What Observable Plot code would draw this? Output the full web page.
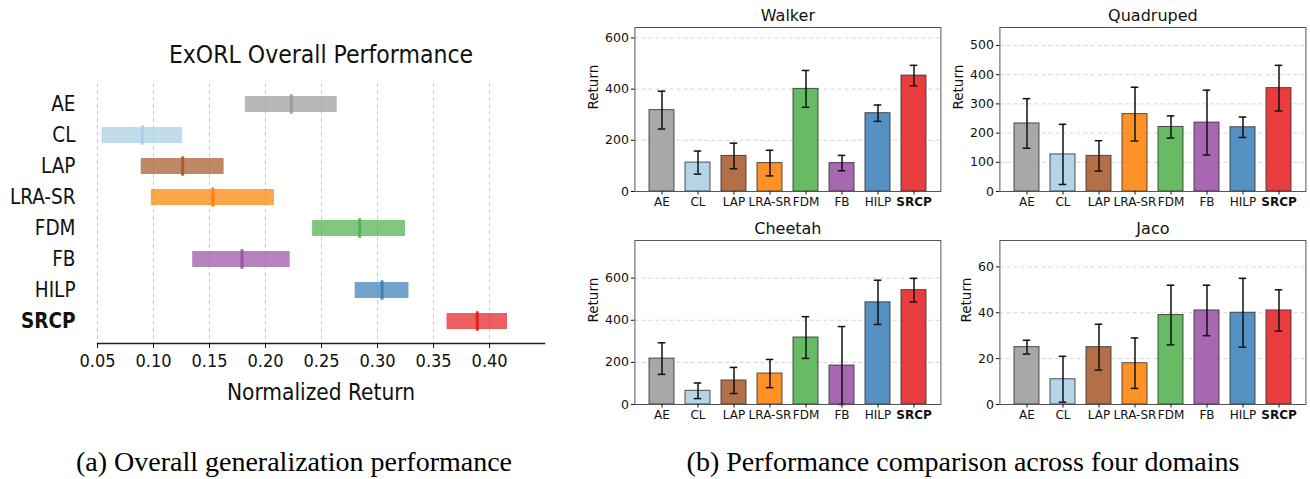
<!DOCTYPE html>
<html>
<head>
<meta charset="utf-8">
<script src="https://cdn.jsdelivr.net/npm/d3@7"></script>
<script src="https://cdn.jsdelivr.net/npm/@observablehq/plot@0.6"></script>
<style>
  html, body { margin: 0; padding: 0; background: #fff; }
  #wrap { position: relative; width: 1310px; height: 479px; overflow: hidden; background: #fff; }
  .panel { position: absolute; }
  .cap { position: absolute; top: 448px; font-family: "Liberation Serif", "Times New Roman", serif; font-size: 28px; line-height: 1; white-space: nowrap; color: #000; transform: translateX(-50%); }
</style>
</head>
<body>
<div id="wrap">
  <div class="panel" id="overall" style="left:0px;top:0px;"></div>
  <div class="panel" id="walker" style="left:580px;top:0px;"></div>
  <div class="panel" id="quad" style="left:945px;top:0px;"></div>
  <div class="panel" id="cheetah" style="left:580px;top:213px;"></div>
  <div class="panel" id="jaco" style="left:945px;top:213px;"></div>
  <div class="cap" style="left:294px;">(a) Overall generalization performance</div>
  <div class="cap" style="left:963px;">(b) Performance comparison across four domains</div>
</div>
<script>
// ---- data ----
const methods = ["AE", "CL", "LAP", "LRA-SR", "FDM", "FB", "HILP", "SRCP"];
const colors = ["#999999", "#a6cee3", "#a65628", "#ff7f00", "#4daf4a", "#984ea3", "#377eb8", "#e41a1c"];

// (a) overall normalized return: interval low / median / high
const overallLo  = [0.182, 0.054, 0.089, 0.098, 0.242, 0.135, 0.280, 0.362];
const overallMed = [0.223, 0.090, 0.126, 0.153, 0.284, 0.179, 0.304, 0.389];
const overallHi  = [0.264, 0.126, 0.163, 0.208, 0.325, 0.222, 0.328, 0.416];
const overallTicks = [0.05, 0.10, 0.15, 0.20, 0.25, 0.30, 0.35, 0.40];

// (b) per-domain mean return and error
const walkerMean  = [318, 113, 139, 111, 401, 111, 306, 453];
const walkerErr   = [74, 45, 50, 50, 72, 30, 32, 40];
const quadMean    = [233, 127, 122, 265, 221, 236, 220, 354];
const quadErr     = [85, 103, 52, 92, 38, 111, 35, 78];
const cheetahMean = [218, 65, 114, 147, 318, 185, 485, 543];
const cheetahErr  = [75, 37, 62, 67, 99, 185, 105, 56];
const jacoMean    = [25, 11, 25, 18, 39, 41, 40, 41];
const jacoErr     = [3, 10, 10, 11, 13, 11, 15, 9];

const walkerTicks  = [0, 200, 400, 600];
const quadTicks    = [0, 100, 200, 300, 400, 500];
const cheetahTicks = [0, 200, 400, 600];
const jacoTicks    = [0, 20, 40, 60];

const normalMethods = methods.filter(m => m !== "SRCP");
const boldMethods = ["SRCP"];

// ---- (a) overall ----
const overallRows = methods.map((m, i) => ({m, lo: overallLo[i], med: overallMed[i], hi: overallHi[i]}));
const overall = Plot.plot({
  width: 560, height: 420,
  marginTop: 83, marginBottom: 77, marginLeft: 97, marginRight: 16,
  x: {domain: [0.05, 0.449], label: null},
  y: {domain: methods, paddingInner: 0.472, paddingOuter: 0.35, label: null},
  color: {domain: methods, range: colors},
  style: {fontFamily: "'DejaVu Sans Condensed', 'DejaVu Sans', sans-serif", fontStretch: "condensed", fontSize: "18px", color: "#111", background: "transparent", overflow: "visible"},
  marks: [
    Plot.gridX({ticks: overallTicks, stroke: "#cccccc", strokeOpacity: 1, strokeDasharray: "4,3", strokeWidth: 1}),
    Plot.barX(overallRows, {y: "m", x1: "lo", x2: "hi", fill: "m", fillOpacity: 0.7}),
    Plot.tickX(overallRows, {y: "m", x: "med", stroke: "m", strokeWidth: 3, strokeOpacity: 0.9, insetTop: -1.7, insetBottom: -1.7}),
    Plot.frame({anchor: "bottom", stroke: "#222", strokeWidth: 1.3}),
    Plot.axisX({ticks: overallTicks, tickFormat: d3.format(".2f"), tickSize: 5, tickPadding: 6, fontSize: 18}),
    Plot.axisY({ticks: normalMethods, tickSize: 0, tickPadding: 22, fontSize: 20.5}),
    Plot.axisY({ticks: boldMethods, tickSize: 0, tickPadding: 22, fontSize: 20.5, fontWeight: "bold"}),
    Plot.text(["ExORL Overall Performance"], {text: d => d, frameAnchor: "top", lineAnchor: "middle", dy: -28, fontSize: 24.5}),
    Plot.text(["Normalized Return"], {text: d => d, frameAnchor: "bottom", lineAnchor: "middle", dy: 49, fontSize: 22.5})
  ]
});
document.getElementById("overall").appendChild(overall);

// ---- (b) domain panels ----
function panel(title, means, errs, ticks, labelDx) {
  const rows = methods.map((m, i) => ({m, mean: means[i], lo: means[i] - errs[i], hi: means[i] + errs[i]}));
  const top = d3.max(rows, d => d.hi) * 1.3;
  const W = 365, ml = 54.4, mr = 4.6;
  const pi = 0.3, po = 0.363;
  const step = (W - ml - mr) / (methods.length - pi + 2 * po);
  const bw = step * (1 - pi);
  const capInset = (bw - 8) / 2;
  const errStyle = {stroke: "#111", strokeWidth: 1.5};
  return Plot.plot({
    width: W, height: 215,
    marginTop: 27, marginBottom: 24, marginLeft: ml, marginRight: mr,
    x: {domain: methods, paddingInner: pi, paddingOuter: po, label: null},
    y: {domain: [0, top], label: null},
    color: {domain: methods, range: colors},
    style: {fontFamily: "'DejaVu Sans', sans-serif", fontSize: "12px", color: "#111", background: "transparent", overflow: "visible"},
    marks: [
      Plot.gridY({ticks, stroke: "#bbbbbb", strokeOpacity: 0.8, strokeDasharray: "4,3", strokeWidth: 0.8}),
      Plot.barY(rows, {x: "m", y: "mean", fill: "m", fillOpacity: 0.85, stroke: "#333", strokeOpacity: 0.85, strokeWidth: 1}),
      Plot.ruleX(rows, {x: "m", y1: "lo", y2: "hi", ...errStyle}),
      Plot.tickY(rows, {x: "m", y: "hi", insetLeft: capInset, insetRight: capInset, ...errStyle}),
      Plot.tickY(rows, {x: "m", y: "lo", insetLeft: capInset, insetRight: capInset, ...errStyle}),
      Plot.frame({stroke: "#555", strokeWidth: 1}),
      Plot.axisY({ticks, tickSize: 3.5, tickPadding: 2.5, fontSize: 12.5}),
      Plot.axisX({ticks: normalMethods, tickSize: 3.5, tickPadding: 2, fontSize: 12}),
      Plot.axisX({ticks: boldMethods, tickSize: 3.5, tickPadding: 2, fontSize: 12, fontWeight: "bold"}),
      Plot.text([title], {text: d => d, frameAnchor: "top", lineAnchor: "middle", dy: -12, fontSize: 16}),
      Plot.text(["Return"], {text: d => d, frameAnchor: "left", lineAnchor: "middle", dx: labelDx, rotate: -90, fontSize: 13.5})
    ]
  });
}

document.getElementById("walker").appendChild(panel("Walker", walkerMean, walkerErr, walkerTicks, -41));
document.getElementById("quad").appendChild(panel("Quadruped", quadMean, quadErr, quadTicks, -41));
document.getElementById("cheetah").appendChild(panel("Cheetah", cheetahMean, cheetahErr, cheetahTicks, -41));
document.getElementById("jaco").appendChild(panel("Jaco", jacoMean, jacoErr, jacoTicks, -33));
</script>
</body>
</html>
